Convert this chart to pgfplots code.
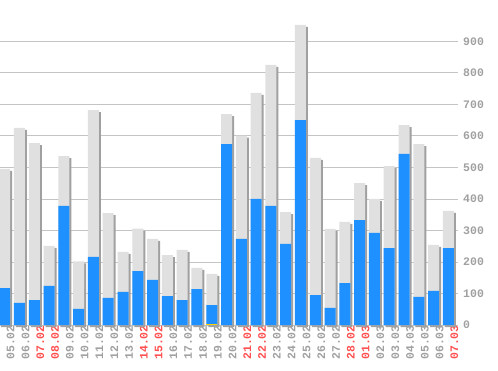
\documentclass[border=0pt]{standalone}
\usepackage{pgfplots}
\pgfplotsset{compat=1.18}
\usepackage{pgfplotstable}
\usepackage{fontspec}
\setmonofont{Liberation Mono}
\definecolor{barblue}{HTML}{1E90FF}
\definecolor{bargray}{HTML}{E0E0E0}
\definecolor{shadowgray}{HTML}{A0A0A0}
\definecolor{gridgray}{HTML}{C4C4C4}
\definecolor{labgray}{HTML}{A0A0A0}
\definecolor{labred}{HTML}{FF4F4F}
\definecolor{baryellow}{HTML}{FFD200}
\pgfplotstableread{
idx total blue
0 495 117
1 625 70
2 577 79
3 251 124
4 536 378
5 202 51
6 682 216
7 355 86
8 232 105
9 306 171
10 273 143
11 222 92
12 238 79
13 181 114
14 162 63
15 669 574
16 601 273
17 736 400
18 825 378
19 358 257
20 952 650
21 530 95
22 305 54
23 327 133
24 450 333
25 400 292
26 504 244
27 634 543
28 574 89
29 254 108
30 362 244
}\datatable
\pgfplotstableread{
idx yel
14 3
}\yeltable
\newcommand{\R}[1]{\textcolor{labred}{#1}}
\begin{document}
\begin{tikzpicture}
\useasboundingbox (0pt,0pt) rectangle (498pt,370pt);
\begin{axis}[
  at={(0pt,45pt)}, anchor=south west,
  scale only axis, width=458pt, height=325pt,
  xmin=-0.318, xmax=30.65, ymin=0, ymax=1031,
  clip=false,
  axis line style={draw=none},
  major tick length=0pt,
  ymajorgrids, grid style={gridgray, line width=0.8pt},
  ytick={0,100,...,900},
  yticklabel pos=right,
  /pgf/number format/assume math mode=true,
  yticklabel style={anchor=west, inner sep=0pt, xshift=5pt, text=labgray, font=\fontsize{11.5}{12}\selectfont\ttfamily\bfseries},
  xtick={0,...,30},
  xticklabels={05.02,06.02,\R{07.02},\R{08.02},09.02,10.02,11.02,12.02,13.02,\R{14.02},\R{15.02},16.02,17.02,18.02,19.02,20.02,\R{21.02},\R{22.02},23.02,24.02,25.02,26.02,27.02,\R{28.02},\R{01.03},02.03,03.03,04.03,05.03,06.03,\R{07.03}},
  xticklabel style={rotate=90, anchor=east, inner sep=0pt, yshift=-6pt, text=labgray, font=\fontsize{11.5}{12}\selectfont\ttfamily\bfseries},
  ybar, bar width=11pt,
]
\addplot[draw=none, fill=shadowgray, bar shift=2pt, yshift=-2pt] table[x=idx, y=total] {\datatable};
\addplot[draw=none, fill=bargray, bar shift=0pt] table[x=idx, y=total] {\datatable};
\addplot[draw=none, fill=barblue, bar shift=0pt] table[x=idx, y=blue] {\datatable};
\addplot[draw=none, fill=baryellow, bar shift=0pt] table[x=idx, y=yel] {\yeltable};
\end{axis}
\end{tikzpicture}
\end{document}
